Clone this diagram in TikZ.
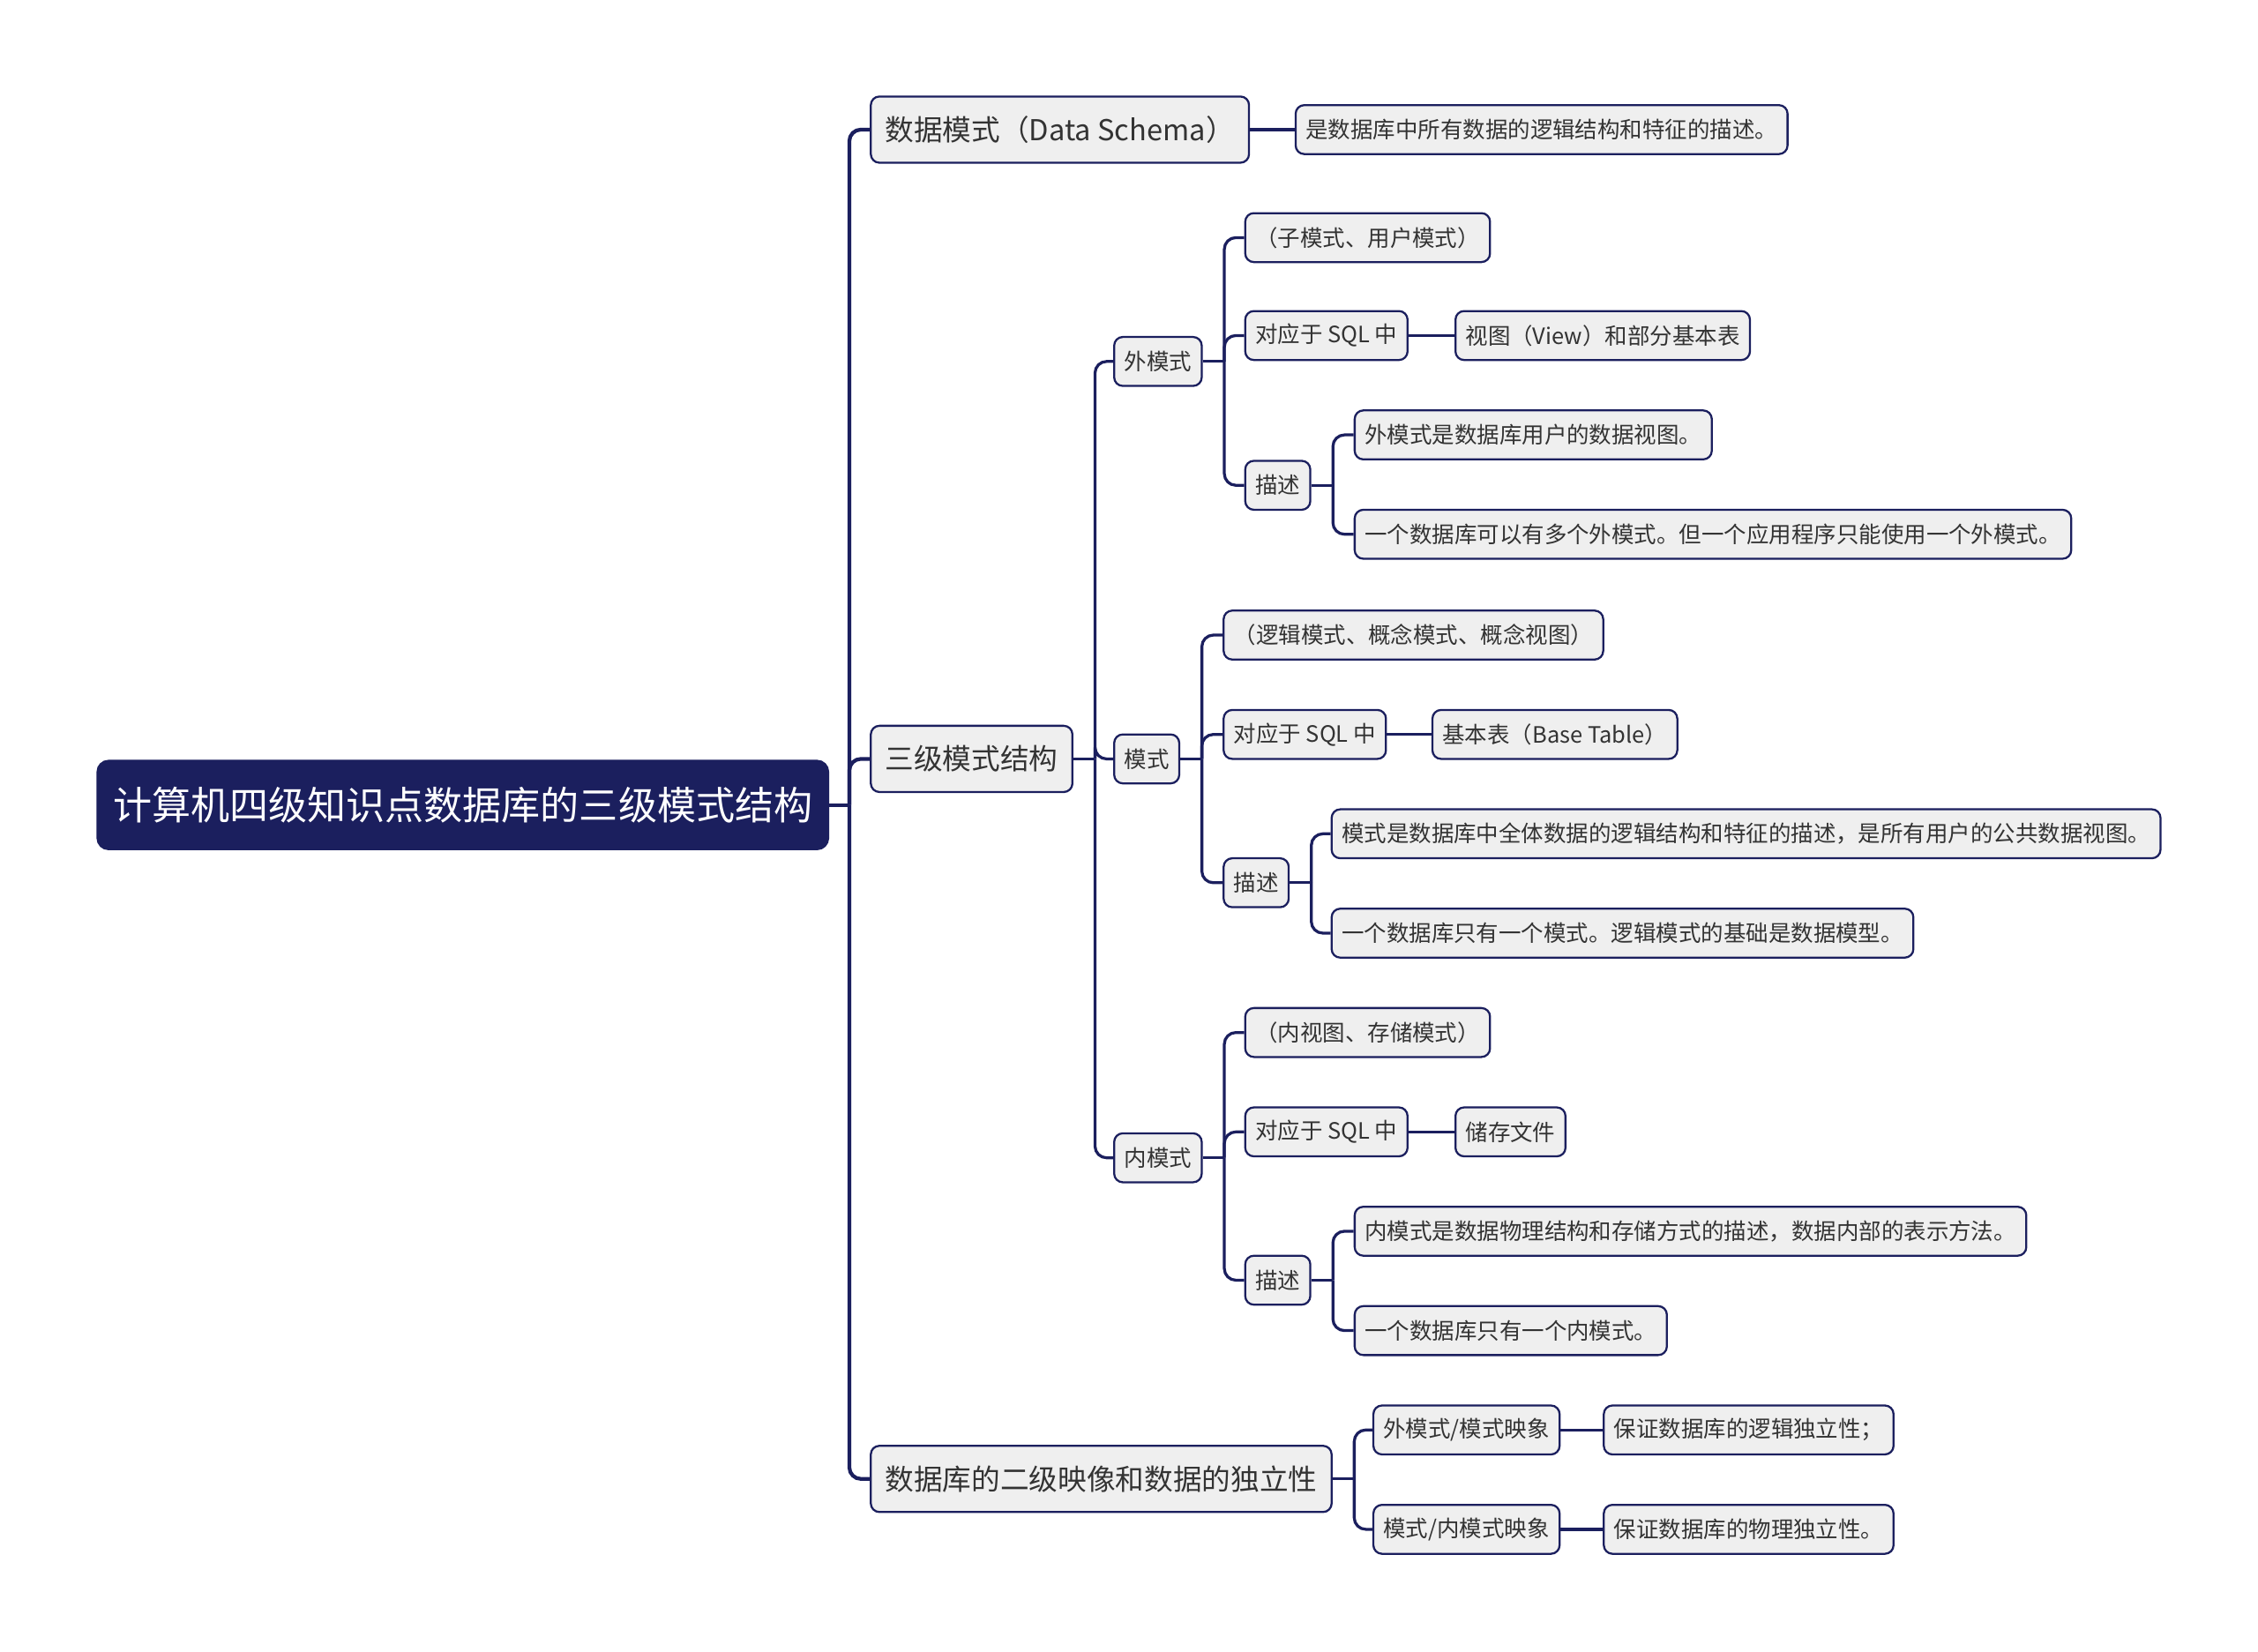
\documentclass[tikz,border=0pt]{standalone}
\usepackage{fontspec}
\setmainfont{Noto Sans CJK SC}
\usetikzlibrary{positioning}
\definecolor{navy}{HTML}{1B1F5E}
\definecolor{boxgray}{HTML}{EFEFEF}
\definecolor{textgray}{HTML}{333333}

\begin{document}
\begin{tikzpicture}[x=0.5pt, y=-0.5pt,
    root/.style={draw=navy, fill=navy, text=white, rounded corners=4pt, font=\fontsize{13.5}{16}\selectfont, minimum height=31pt, inner xsep=5.5pt, anchor=west},
    topic/.style={draw=navy, line width=0.7pt, fill=boxgray, text=textgray, rounded corners=3pt, font=\fontsize{10}{12}\selectfont, minimum height=23pt, inner xsep=5pt, anchor=west},
    leaf/.style={draw=navy, line width=0.7pt, fill=boxgray, text=textgray, rounded corners=3pt, font=\fontsize{7.8}{9}\selectfont, minimum height=17pt, inner xsep=3.5pt, anchor=west},
    edge/.style={draw=navy, line width=1pt, rounded corners=4pt},
    mainedge/.style={edge, line width=1.3pt}]
    \useasboundingbox (0,0) rectangle (1568,1147);

    \node[root] (root) at (67,559) {计算机四级知识点数据库的三级模式结构};

    \node[topic] (schema) at (604,90) {数据模式（Data Schema）};
    \node[topic] (sanji) at (604,527) {三级模式结构};
    \node[topic] (erji) at (604,1027) {数据库的二级映像和数据的独立性};

    \node[leaf] (schemadef) at (899,90) {是数据库中所有数据的逻辑结构和特征的描述。};
    \node[leaf] (wai) at (773,251) {外模式};
    \node[leaf] (mo) at (773,527) {模式};
    \node[leaf] (nei) at (773,804) {内模式};

    % 外模式
    \node[leaf] (waialias) at (864,165) {（子模式、用户模式）};
    \node[leaf] (waisql) at (864,233) {对应于 SQL 中};
    \node[leaf] (waiview) at (1010,233) {视图（View）和部分基本表};
    \node[leaf] (waidesc) at (864,337) {描述};
    \node[leaf] (waid1) at (940,302) {外模式是数据库用户的数据视图。};
    \node[leaf] (waid2) at (940,371) {一个数据库可以有多个外模式。但一个应用程序只能使用一个外模式。};

    % 模式
    \node[leaf] (moalias) at (849,441) {（逻辑模式、概念模式、概念视图）};
    \node[leaf] (mosql) at (849,510) {对应于 SQL 中};
    \node[leaf] (motable) at (994,510) {基本表（Base Table）};
    \node[leaf] (modesc) at (849,613) {描述};
    \node[leaf] (mod1) at (924,579) {模式是数据库中全体数据的逻辑结构和特征的描述，是所有用户的公共数据视图。};
    \node[leaf] (mod2) at (924,648) {一个数据库只有一个模式。逻辑模式的基础是数据模型。};

    % 内模式
    \node[leaf] (neialias) at (864,717) {（内视图、存储模式）};
    \node[leaf] (neisql) at (864,786) {对应于 SQL 中};
    \node[leaf] (neifile) at (1010,786) {储存文件};
    \node[leaf] (neidesc) at (864,889) {描述};
    \node[leaf] (neid1) at (940,855) {内模式是数据物理结构和存储方式的描述，数据内部的表示方法。};
    \node[leaf] (neid2) at (940,924) {一个数据库只有一个内模式。};

    % 二级映像
    \node[leaf] (map1) at (953,993) {外模式/模式映象};
    \node[leaf] (map2) at (953,1062) {模式/内模式映象};
    \node[leaf] (ind1) at (1113,993) {保证数据库的逻辑独立性；};
    \node[leaf] (ind2) at (1113,1062) {保证数据库的物理独立性。};

    % connectors
    \draw[mainedge] (root.east) -- ++(14,0) coordinate (jroot);
    \draw[mainedge] (jroot) |- (schema.west);
    \draw[mainedge] (jroot) |- (sanji.west);
    \draw[mainedge] (jroot) |- (erji.west);

    \draw[edge] (schema.east) -- (schemadef.west);

    \draw[edge] (sanji.east) -- ++(15,0) coordinate (jsanji);
    \draw[edge] (jsanji) |- (wai.west);
    \draw[edge] (jsanji) |- (mo.west);
    \draw[edge] (jsanji) |- (nei.west);

    \draw[edge] (wai.east) -- ++(15,0) coordinate (jwai);
    \draw[edge] (jwai) |- (waialias.west);
    \draw[edge] (jwai) |- (waisql.west);
    \draw[edge] (jwai) |- (waidesc.west);
    \draw[edge] (waisql.east) -- (waiview.west);
    \draw[edge] (waidesc.east) -- ++(15,0) coordinate (jwaidesc);
    \draw[edge] (jwaidesc) |- (waid1.west);
    \draw[edge] (jwaidesc) |- (waid2.west);

    \draw[edge] (mo.east) -- ++(15,0) coordinate (jmo);
    \draw[edge] (jmo) |- (moalias.west);
    \draw[edge] (jmo) |- (mosql.west);
    \draw[edge] (jmo) |- (modesc.west);
    \draw[edge] (mosql.east) -- (motable.west);
    \draw[edge] (modesc.east) -- ++(15,0) coordinate (jmodesc);
    \draw[edge] (jmodesc) |- (mod1.west);
    \draw[edge] (jmodesc) |- (mod2.west);

    \draw[edge] (nei.east) -- ++(15,0) coordinate (jnei);
    \draw[edge] (jnei) |- (neialias.west);
    \draw[edge] (jnei) |- (neisql.west);
    \draw[edge] (jnei) |- (neidesc.west);
    \draw[edge] (neisql.east) -- (neifile.west);
    \draw[edge] (neidesc.east) -- ++(15,0) coordinate (jneidesc);
    \draw[edge] (jneidesc) |- (neid1.west);
    \draw[edge] (jneidesc) |- (neid2.west);

    \draw[edge] (erji.east) -- ++(15,0) coordinate (jerji);
    \draw[edge] (jerji) |- (map1.west);
    \draw[edge] (jerji) |- (map2.west);
    \draw[edge] (map1.east) -- (ind1.west);
    \draw[edge] (map2.east) -- (ind2.west);
\end{tikzpicture}
\end{document}
